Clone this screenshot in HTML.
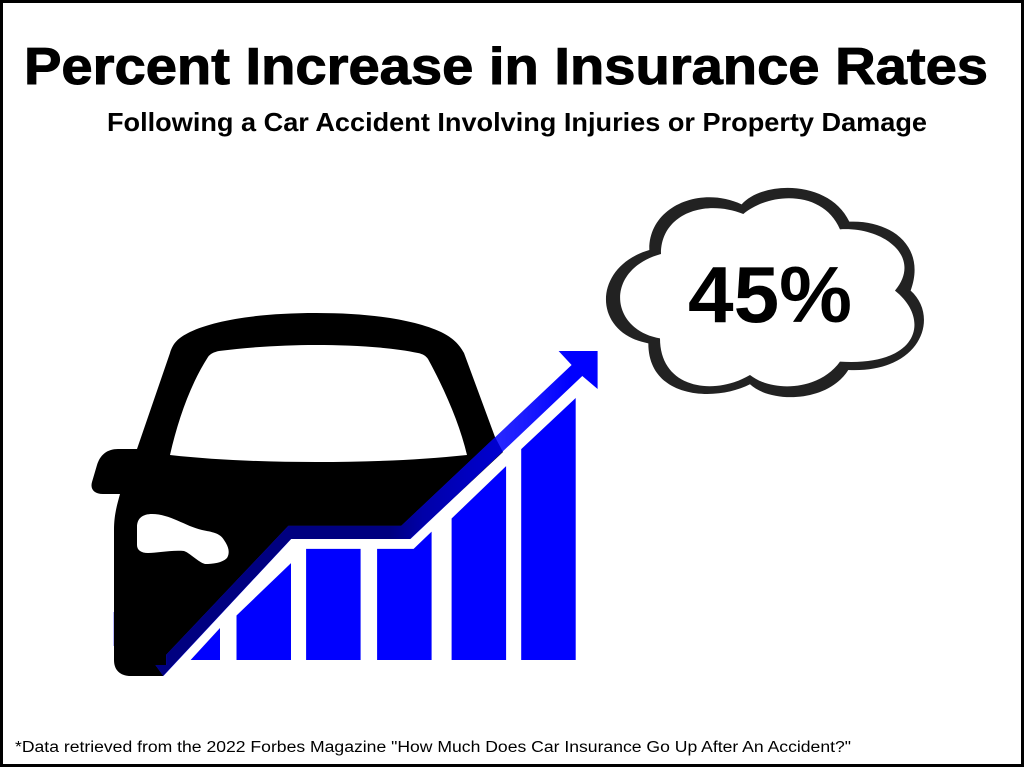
<!DOCTYPE html>
<html lang="en">
<head>
<meta charset="utf-8">
<title>Percent Increase in Insurance Rates</title>
<style>
html,body{margin:0;padding:0;background:#fff;}
svg{display:block;}
text{font-family:"Liberation Sans",sans-serif;fill:#000;}
</style>
</head>
<body>
<svg id="chart" width="1024" height="768" viewBox="0 0 1024 768" xmlns="http://www.w3.org/2000/svg">
  <defs>
    <linearGradient id="overlayFill" gradientUnits="userSpaceOnUse" x1="390" y1="0" x2="500" y2="0">
      <stop offset="0" stop-color="#000080"/>
      <stop offset="0.3" stop-color="#0000a8"/>
      <stop offset="1" stop-color="#0000d0"/>
    </linearGradient>
    <linearGradient id="arrowFill" gradientUnits="userSpaceOnUse" x1="490" y1="0" x2="570" y2="0">
      <stop offset="0" stop-color="#2a2aff"/>
      <stop offset="0.5" stop-color="#1818ff"/>
      <stop offset="1" stop-color="#0000ff"/>
    </linearGradient>
    <clipPath id="carClip">
      <path d="M114 660 L114 530 C114 515 117 505 120 494 L103 494 C94 494 90 489 92 482 L97 465 C100 455 107 449 118 449 L137 449 L170 353 C173 343 178 338 190 332 C215 320 260 313 316 313 C372 313 415 320 441 332 C453 338 459 344 464 353 L495 437 L503 452 L410 539 L291 539 L163 676 L131 676 C120 676 114 670 114 660 Z"/>
    </clipPath>
  </defs>

  <rect x="1.5" y="1.5" width="1021" height="764" fill="#fff" stroke="#000" stroke-width="3"/>

  <text x="24" y="84" font-size="52" font-weight="700" stroke="#000" stroke-width="1" textLength="964" lengthAdjust="spacingAndGlyphs">Percent Increase in Insurance Rates</text>
  <text x="107" y="131" font-size="26" font-weight="700" textLength="820" lengthAdjust="spacingAndGlyphs">Following a Car Accident Involving Injuries or Property Damage</text>

  <g>
    <path fill="#000" d="M114 660 L114 530 C114 515 117 505 120 494 L103 494 C94 494 90 489 92 482 L97 465 C100 455 107 449 118 449 L137 449 L170 353 C173 343 178 338 190 332 C215 320 260 313 316 313 C372 313 415 320 441 332 C453 338 459 344 464 353 L495 437 L503 452 L410 539 L291 539 L163 676 L131 676 C120 676 114 670 114 660 Z"/>
    <path fill="#fff" d="M170 455 C178 420 190 385 208 357 C210 354 214 352 219 351 C250 347 285 345 316 345 C350 345 390 347 418 353 C423 354 426 356 428 359 C445 390 460 425 467 455 C420 460 370 462 316 462 C265 462 215 460 170 455 Z"/>
    <path fill="#fff" d="M137 527 C137 518 143 514 152 514 C170 514 185 526 202 530 C212 532 220 533 224 540 C229 547 230 553 227 558 C222 563 213 564 205 564 C198 562 190 553 184 551 C170 550 158 553 148 553 C141 553 137 550 137 545 Z"/>
    <rect x="113" y="612" width="1" height="34" fill="#3a3aff" opacity="0.35"/>
  </g>

  <g id="bars"></g>
  <g id="trend"></g>

  <g transform="translate(590 170) scale(0.3333)">
    <path fill="#222" d="M178 240 C175 110 330 45 455 103 C520 30 720 30 778 155 C905 150 1010 230 962 362 C1050 440 995 610 775 600 C712 700 540 700 480 643 C380 695 175 690 175 520 C5 490 5 290 178 240 Z"/>
    <path fill="#fff" d="M213 252 C212 135 340 85 460 132 C540 65 700 60 750 178 C880 170 1000 260 915 362 C1025 450 985 590 750 575 C690 660 550 670 480 615 C370 680 210 655 210 505 C60 480 40 300 213 252 Z"/>
  </g>
  <text x="688" y="322" font-size="80" font-weight="700" textLength="164" lengthAdjust="spacingAndGlyphs">45%</text>

  <text x="15" y="752" font-size="15.5" textLength="836" lengthAdjust="spacingAndGlyphs">*Data retrieved from the 2022 Forbes Magazine "How Much Does Car Insurance Go Up After An Accident?"</text>
</svg>

<script>
var categories = ['bar-1', 'bar-2', 'bar-3', 'bar-4', 'bar-5', 'bar-6'];
var barSteps = [0, 1, 1.98, 2.98, 4.03, 5.01];
var barStartValues = [0, 17, 42.4, 42.4, 54, 80.5];
var barEndValues = [12.2, 37, 42.4, 49, 74, 100];
var barLeadingCutShares = [0.46, 0, 0, 0, 0, 0];
var barFlatShares = [0, 0, 0, 0.67, 0, 0];
var trendLowerSteps = [-0.03, 1.77, 3.45, 5.87];
var trendLowerValues = [-6.1, 46.2, 46.2, 108.4];
var trendUpperSteps = [0.01, 1.73, 3.32, 5.72];
var trendUpperValues = [2, 51.2, 51.2, 112.6];

var NS = 'http://www.w3.org/2000/svg';
function xScale(step) { return 165.5 + step * 71; }
function yScale(value) { return 660 - value * 2.62; }
var BAR_WIDTH = 54.5;

function pointsToString(points) {
  return points.map(function (p) { return p[0].toFixed(1) + ',' + p[1].toFixed(1); }).join(' ');
}

var barsGroup = document.getElementById('bars');
categories.forEach(function (name, i) {
  var left = xScale(barSteps[i]);
  var right = left + BAR_WIDTH;
  var start = left + BAR_WIDTH * barLeadingCutShares[i];
  var points = [[start, yScale(0)], [start, yScale(barStartValues[i])]];
  if (barFlatShares[i] > 0) {
    points.push([left + BAR_WIDTH * barFlatShares[i], yScale(barStartValues[i])]);
  }
  points.push([right, yScale(barEndValues[i])]);
  points.push([right, yScale(0)]);
  var bar = document.createElementNS(NS, 'polygon');
  bar.setAttribute('points', pointsToString(points));
  bar.setAttribute('fill', '#0000ff');
  
  
  barsGroup.appendChild(bar);
});

function arrowPoints() {
  var upper = trendUpperSteps.map(function (s, i) { return [xScale(s), yScale(trendUpperValues[i])]; });
  var lower = trendLowerSteps.map(function (s, i) { return [xScale(s), yScale(trendLowerValues[i])]; });
  var upperEnd = upper[upper.length - 1];
  var lowerEnd = lower[lower.length - 1];
  var head = [
    [upperEnd[0] - 13, upperEnd[1] - 14],
    [upperEnd[0] + 26, upperEnd[1] - 14],
    [upperEnd[0] + 26, upperEnd[1] + 24],
    lowerEnd
  ];
  var tail = [
    [lower[0][0] - 8, lower[0][1] - 11],
    [upper[0][0], lower[0][1] - 11]
  ];
  return upper.concat(head, lower.slice(0, -1).reverse(), tail);
}

var trendGroup = document.getElementById('trend');
var arrowShape = pointsToString(arrowPoints());

var arrowBase = document.createElementNS(NS, 'polygon');
arrowBase.setAttribute('points', arrowShape);
arrowBase.setAttribute('fill', 'url(#arrowFill)');


trendGroup.appendChild(arrowBase);

var arrowOverlay = document.createElementNS(NS, 'polygon');
arrowOverlay.setAttribute('points', arrowShape);
arrowOverlay.setAttribute('fill', 'url(#overlayFill)');
arrowOverlay.setAttribute('clip-path', 'url(#carClip)');


trendGroup.appendChild(arrowOverlay);
</script>
</body>
</html>
